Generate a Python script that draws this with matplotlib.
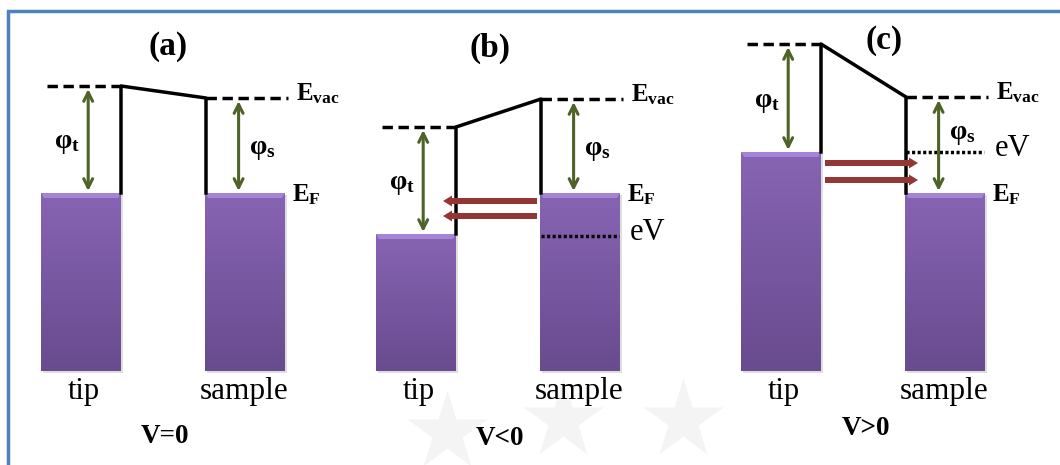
import numpy as np
import matplotlib
matplotlib.use("Agg")
from matplotlib import pyplot as plt
from matplotlib.colors import LinearSegmentedColormap
from matplotlib.patches import Polygon, Rectangle

# energy levels per panel (drawing units, y grows downward)
panelTitles = ["(a)", "(b)", "(c)"]
biasLabels = ["V=0", "V<0", "V>0"]
tipVacuum = [86, 127, 44]
sampleVacuum = [98, 99, 97]
tipFermi = [193, 234, 152]
sampleFermi = [193, 193, 193]
biasLevel = [None, 236, 152]          # dotted eV line on the sample side
tunnelLevels = [[], [201, 216], [163, 180]]
tunnelDirection = [0, -1, 1]          # -1: sample -> tip, +1: tip -> sample

# layout
tipLeft = [41, 376, 741]
sampleOffset = 164
barWidth = 80
barBottom = 371

PURPLE_TOP = "#8764b3"
PURPLE_BOTTOM = "#694b8f"
GREEN = "#4f6228"
RED = "#943634"
BORDER = "#4f81bd"

plt.rcParams["font.family"] = ["Liberation Serif", "DejaVu Serif"]
plt.rcParams["mathtext.fontset"] = "custom"
plt.rcParams["mathtext.rm"] = "Liberation Serif"
plt.rcParams["mathtext.bf"] = "Liberation Serif:bold"
plt.rcParams["mathtext.it"] = "Liberation Serif:italic"

barCmap = LinearSegmentedColormap.from_list("bar", [PURPLE_TOP, PURPLE_BOTTOM])
gradient = np.linspace(0, 1, 100).reshape(-1, 1)


def drawBar(axis, x0, top):
    x1 = x0 + barWidth
    axis.add_patch(Rectangle((x0 + 1.5, top + 1.5), barWidth, barBottom - top,
                             color="#c8c8c8", alpha=0.6, lw=0, zorder=1))
    axis.imshow(gradient, extent=(x0, x1, barBottom, top), cmap=barCmap,
                aspect="auto", origin="upper", zorder=2)
    axis.add_patch(Polygon([(x0, top), (x1, top), (x1 - 3, top + 5), (x0 + 3, top + 5)],
                           closed=True, color="#a384d6", lw=0, zorder=3))


def doubleArrow(axis, x, yTop, yBottom):
    axis.annotate("", xy=(x, yBottom - 2), xytext=(x, yTop + 3),
                  arrowprops=dict(arrowstyle="<->", color=GREEN, lw=2.2,
                                  shrinkA=0, shrinkB=0, mutation_scale=16), zorder=5)


figure = plt.figure(figsize=(10.6, 4.65), dpi=100)
axis = figure.add_axes([0, 0, 1, 1])
axis.axis("off")

# faint watermark stars
for wx, wy in [(447, 432), (563, 420), (683, 420)]:
    axis.plot(wx, wy, marker="*", ms=60, color="#f4f4f4", mec="none", zorder=0)

# blue frame
axis.plot([8, 8, 1060], [465, 11, 11], color=BORDER, lw=2.5, solid_joinstyle="miter", zorder=6)

for i in range(3):
    tx = tipLeft[i]
    sx = tx + sampleOffset
    tRight = tx + barWidth

    drawBar(axis, tx, tipFermi[i])
    drawBar(axis, sx, sampleFermi[i])

    # vacuum levels and barrier
    axis.plot([tx + 6, tRight], [tipVacuum[i]] * 2, color="black", lw=2.5,
              linestyle=(0, (3, 1.6)), zorder=4)
    axis.plot([sx + 1, sx + barWidth + 3], [sampleVacuum[i]] * 2, color="black", lw=2.5,
              linestyle=(0, (3, 1.6)), zorder=4)
    axis.plot([tRight, tRight, sx + 1, sx + 1],
              [tipFermi[i], tipVacuum[i], sampleVacuum[i], sampleFermi[i]],
              color="black", lw=2.5, zorder=4)

    # work functions
    tArrowX = tx + barWidth * 0.59
    sArrowX = sx + barWidth * 0.42
    doubleArrow(axis, tArrowX, tipVacuum[i], tipFermi[i])
    doubleArrow(axis, sArrowX, sampleVacuum[i], sampleFermi[i])
    tMid = (tipVacuum[i] + tipFermi[i]) / 2
    sMid = (sampleVacuum[i] + sampleFermi[i]) / 2
    if i == 2:
        sMid -= 15
    axis.text(tArrowX - 34, tMid + 4, r"$\mathbf{φ_t}$", fontsize=20, ha="left", va="center")
    axis.text(sArrowX + 10, sMid + 4, r"$\mathbf{φ_s}$", fontsize=20, ha="left", va="center")

    # level labels
    axis.text(sx + barWidth + 11, sampleVacuum[i] + 2, r"$\mathbf{E_{vac}}$",
              fontsize=18, ha="left", va="baseline")
    axis.text(sx + barWidth + 7, sampleFermi[i] + 8, r"$\mathbf{E_F}$",
              fontsize=18, ha="left", va="baseline")

    if biasLevel[i] is not None:
        axis.plot([sx + 1, sx + barWidth - 1], [biasLevel[i]] * 2, color="black", lw=2.5,
                  linestyle=(0, (0.9, 0.7)), zorder=4)
        axis.text(sx + barWidth + 10, biasLevel[i] + 4, "eV", fontsize=22,
                  ha="left", va="baseline")

    # tunnelling current
    for ty in tunnelLevels[i]:
        if tunnelDirection[i] < 0:
            start, end = sx - 3, tRight - 13
        else:
            start, end = tRight + 4, sx + 13
        axis.arrow(start, ty, end - start, 0, width=6, head_width=11, head_length=9,
                   length_includes_head=True, color=RED, lw=0, zorder=5)

    axis.text(tx + barWidth / 2 + 3, 399, "tip", fontsize=22, ha="center", va="baseline")
    axis.text(sx + barWidth / 2 - 1, 399, "sample", fontsize=22.5, ha="center", va="baseline")

titleY = [47, 48, 40]
titleX = [168, 490, 884]
biasX = [165, 500, 866]
biasY = [443, 445, 435]
for i in range(3):
    axis.text(titleX[i], titleY[i], panelTitles[i], fontsize=24, fontweight="bold",
              ha="center", va="center")
    axis.text(biasX[i], biasY[i], biasLabels[i], fontsize=19.5, fontweight="bold",
              ha="center", va="baseline")

axis.set_xlim(0, 1060)
axis.set_ylim(465, 0)
figure.savefig("out.png", dpi=100)
